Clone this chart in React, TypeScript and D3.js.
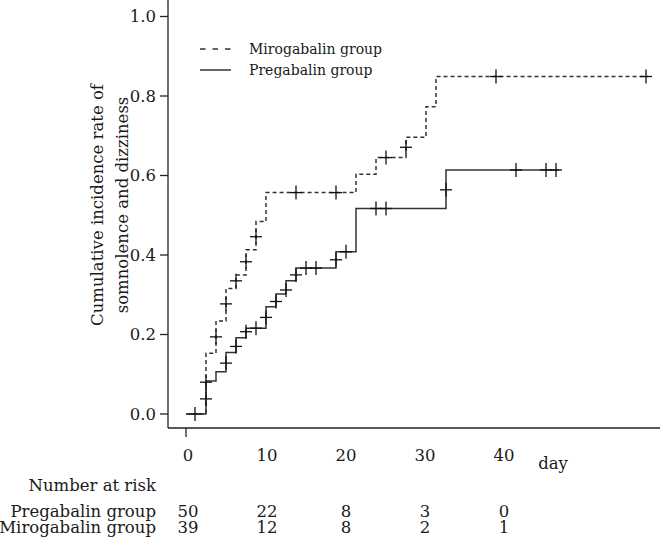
import React from "react";
import * as d3 from "d3";

// number-at-risk table
const riskDays = ["0", "10", "20", "30", "40"];
const pregabalinAtRisk = [50, 22, 8, 3, 0];
const mirogabalinAtRisk = [39, 12, 8, 2, 1];

const yTicks = [0, 0.2, 0.4, 0.6, 0.8, 1.0];

// [day, cumulative incidence from that day on]
const pregabalinSteps: [number, number][] = [
  [0, 0],
  [2, 0.083],
  [3, 0.106],
  [4, 0.155],
  [5, 0.192],
  [6, 0.216],
  [8, 0.27],
  [9, 0.302],
  [10, 0.335],
  [11, 0.367],
  [15, 0.408],
  [17, 0.517],
  [26, 0.614],
];
const pregabalinLast = 37.3;
const pregabalinCensored: [number, number][] = [
  [0.9, 0], [2, 0.038], [2, 0.08], [4, 0.128], [5, 0.17], [6, 0.207],
  [7, 0.216], [8, 0.243], [9, 0.283], [10, 0.312], [11, 0.35],
  [12, 0.367], [13, 0.367], [15, 0.388], [16, 0.408], [19, 0.517],
  [20, 0.517], [26, 0.564], [33, 0.614], [36, 0.614], [37, 0.614],
];

const mirogabalinSteps: [number, number][] = [
  [0, 0],
  [2, 0.153],
  [3, 0.234],
  [4, 0.316],
  [5, 0.35],
  [6, 0.413],
  [7, 0.484],
  [8, 0.557],
  [17, 0.603],
  [19, 0.645],
  [22, 0.696],
  [24, 0.773],
  [25, 0.849],
];
const mirogabalinLast = 46.2;
const mirogabalinCensored: [number, number][] = [
  [3, 0.194], [4, 0.277], [5, 0.335], [6, 0.383], [7, 0.446],
  [11, 0.557], [15, 0.557], [20, 0.645], [22, 0.671], [31, 0.849],
  [46, 0.849],
];

const W = 669;
const H = 538;
const FONT = "'DejaVu Serif', serif";
const INK = "#222";
const TXT = "#1a1a1a";

const x = d3.scaleLinear().domain([0, 48]).range([186, 666]);
const y = d3.scaleLinear().domain([0, 1]).range([414, 16.5]);
const col = d3.scalePoint<string>().domain(riskDays).range([188, 504]);

const stepLine = d3
  .line<[number, number]>()
  .x((d) => x(d[0]))
  .y((d) => y(d[1]))
  .curve(d3.curveStepAfter);

function curvePath(steps: [number, number][], last: number) {
  const pts = [...steps, [last, steps[steps.length - 1][1]] as [number, number]];
  return stepLine(pts) || "";
}

const Cross: React.FC<{ t: number; v: number }> = ({ t, v }) => {
  const cx = x(t);
  const cy = y(v);
  return (
    <g stroke="#111" strokeWidth={1.3}>
      <line x1={cx - 6} x2={cx + 6} y1={cy} y2={cy} />
      <line x1={cx} x2={cx} y1={cy - 7} y2={cy + 7} />
    </g>
  );
};

export default function App() {
  const axisY = 428;
  const axisX = 168;
  return (
    <>
      <style>{`body{margin:0;background:#fff}`}</style>
      <svg width={W} height={H} style={{ display: "block" }} fontFamily={FONT}>
        <rect width={W} height={H} fill="#fff" />

        {/* axes */}
        <line x1={axisX} x2={axisX} y1={0} y2={axisY} stroke={INK} strokeWidth={1.3} />
        <line x1={axisX} x2={660} y1={axisY} y2={axisY} stroke={INK} strokeWidth={1.3} />
        {yTicks.map((t) => (
          <g key={t}>
            <line x1={axisX - 8} x2={axisX} y1={y(t)} y2={y(t)} stroke={INK} strokeWidth={1.3} />
            <text x={156} y={y(t)} dy="0.36em" textAnchor="end" fontSize={16.5} fill={TXT}>
              {d3.format(".1f")(t)}
            </text>
          </g>
        ))}
        <line x1={x(0)} x2={x(0)} y1={axisY} y2={axisY + 9} stroke={INK} strokeWidth={1.3} />

        <text transform="translate(0,205) rotate(-90)" textAnchor="middle" fontSize={16.5} fill={TXT}>
          <tspan x={0} y={103}>Cumulative incidence rate of</tspan>
          <tspan x={0} y={128}>somnolence and dizziness</tspan>
        </text>

        {/* curves */}
        <path
          d={curvePath(mirogabalinSteps, mirogabalinLast)}
          fill="none"
          stroke="#333"
          strokeWidth={1.5}
          strokeDasharray="4 3"
        />
        <path
          d={curvePath(pregabalinSteps, pregabalinLast)}
          fill="none"
          stroke="#333"
          strokeWidth={1.5}
        />
        {pregabalinCensored.map(([t, v], i) => (
          <Cross key={"p" + i} t={t} v={v} />
        ))}
        {mirogabalinCensored.map(([t, v], i) => (
          <Cross key={"m" + i} t={t} v={v} />
        ))}

        {/* legend */}
        <line x1={200} x2={231} y1={49} y2={49} stroke="#333" strokeWidth={1.5} strokeDasharray="5.5 7" />
        <text x={249} y={49} dy="0.36em" fontSize={14} fill={TXT}>Mirogabalin group</text>
        <line x1={200} x2={231} y1={70} y2={70} stroke="#333" strokeWidth={1.5} />
        <text x={249} y={70} dy="0.36em" fontSize={14} fill={TXT}>Pregabalin group</text>

        {/* day labels and number at risk */}
        {riskDays.map((d) => (
          <text key={d} x={col(d)} y={455} dy="0.36em" textAnchor="middle" fontSize={16.5} fill={TXT}>
            {d}
          </text>
        ))}
        <text x={553} y={463} dy="0.36em" textAnchor="middle" fontSize={16.5} fill={TXT}>day</text>
        <text x={156} y={485} dy="0.36em" textAnchor="end" fontSize={16.5} fill={TXT}>Number at risk</text>
        <text x={156} y={511} dy="0.36em" textAnchor="end" fontSize={16.5} fill={TXT}>Pregabalin group</text>
        <text x={156} y={527} dy="0.36em" textAnchor="end" fontSize={16.5} fill={TXT}>Mirogabalin group</text>
        {riskDays.map((d, i) => (
          <g key={"r" + d}>
            <text x={col(d)} y={511} dy="0.36em" textAnchor="middle" fontSize={16.5} fill={TXT}>
              {pregabalinAtRisk[i]}
            </text>
            <text x={col(d)} y={527} dy="0.36em" textAnchor="middle" fontSize={16.5} fill={TXT}>
              {mirogabalinAtRisk[i]}
            </text>
          </g>
        ))}
      </svg>
    </>
  );
}
